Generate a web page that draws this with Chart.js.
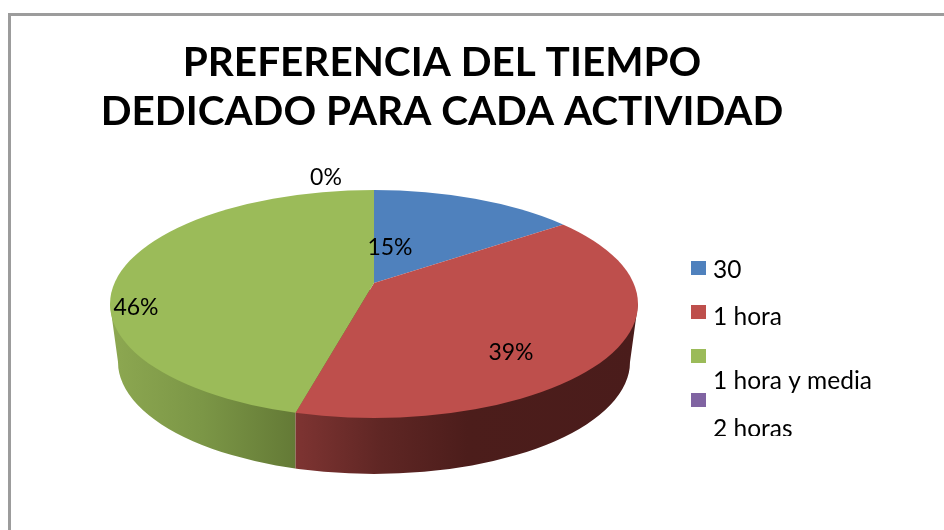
<!DOCTYPE html>
<html lang="es">
<head>
<meta charset="utf-8">
<title>Preferencia del tiempo</title>
<style>html,body{margin:0;padding:0;background:#fff}#w{width:944px;height:530px}</style>
<script src="https://cdn.jsdelivr.net/npm/chart.js@4/dist/chart.umd.min.js"></script>
</head>
<body>
<div id="w"><canvas id="c" width="944" height="530"></canvas></div>
<script>
const titleLines = ['PREFERENCIA DEL TIEMPO', 'DEDICADO PARA CADA ACTIVIDAD'];
const categories = ['30', '1 hora', '1 hora y media', '2 horas'];
const percentValues = [15, 39, 46, 0];
const sliceColors = ['#4F81BD', '#BE4F4C', '#9BBB59', '#8064A2'];

// layout constants, unrelated to the data
const FONT = 'Lato, Carlito, sans-serif';
const top3d = {cx: 374, cy: 304, rx: 264, ry: 114};
const bottom3d = {cx: 374, cy: 362, rx: 256, ry: 112};
const apex = {x: 374, y: 283};
const squash = 0.425;
const percentAnchors = [[390, 248], [511, 353], [136, 308], [326, 178]];
const swatchTops = [261, 305, 349, 393];
const legendBaselines = [278, 325, 389, 437];

function sideGradient(ctx, x0, x1, stops) {
  const g = ctx.createLinearGradient(x0, 0, x1, 0);
  stops.forEach(s => g.addColorStop(s[0], s[1]));
  return g;
}
function splitX(angle) {
  const dx = Math.cos(angle), dy = squash * Math.sin(angle);
  const ox = (apex.x - top3d.cx) / top3d.rx, oy = (apex.y - top3d.cy) / top3d.ry;
  const ux = dx / top3d.rx, uy = dy / top3d.ry;
  const a = ux * ux + uy * uy, b = 2 * (ox * ux + oy * uy), c = ox * ox + oy * oy - 1;
  const t = (-b + Math.sqrt(b * b - 4 * a * c)) / (2 * a);
  return apex.x + t * dx;
}

const pie3d = {
  id: 'pie3d',
  beforeDraw(chart) {
    const ctx = chart.ctx;
    ctx.save();
    ctx.fillStyle = '#fff';
    ctx.fillRect(0, 0, chart.width, chart.height);
    ctx.strokeStyle = '#9c9c9c';
    ctx.lineWidth = 3;
    ctx.strokeRect(9.5, 14.5, 2000, 2000);
    ctx.restore();
  },
  beforeDatasetsDraw(chart) {
    const ctx = chart.ctx;
    const arcs = chart.getDatasetMeta(0).data;
    const split = splitX(arcs[1].endAngle);

    // rim of the disc
    ctx.save();
    ctx.beginPath();
    ctx.ellipse(bottom3d.cx, bottom3d.cy, bottom3d.rx, bottom3d.ry, 0, 0, Math.PI * 2);
    ctx.moveTo(top3d.cx - top3d.rx, top3d.cy);
    ctx.lineTo(top3d.cx + top3d.rx, top3d.cy);
    ctx.lineTo(bottom3d.cx + bottom3d.rx, bottom3d.cy);
    ctx.lineTo(bottom3d.cx - bottom3d.rx, bottom3d.cy);
    ctx.closePath();
    ctx.clip();
    ctx.fillStyle = sideGradient(ctx, 110, split, [[0, '#8DA851'], [0.5, '#7B9646'], [1, '#647A36']]);
    ctx.fillRect(100, 290, split - 100, 200);
    ctx.fillStyle = sideGradient(ctx, split, 640, [[0, '#7E3432'], [0.25, '#5F2624'], [0.5, '#4C1D1B'], [1, '#4A1C1B']]);
    ctx.fillRect(split, 290, 550, 200);
    ctx.restore();

    // top face: library arcs seen through the ellipse
    ctx.save();
    ctx.beginPath();
    ctx.ellipse(top3d.cx, top3d.cy, top3d.rx, top3d.ry, 0, 0, Math.PI * 2);
    ctx.clip();
    arcs.forEach(arc => {
      ctx.save();
      ctx.translate(apex.x, apex.y);
      ctx.scale(1, squash);
      ctx.translate(-arc.x, -arc.y);
      arc.draw(ctx);
      ctx.restore();
    });
    ctx.restore();
    return false;
  },
  afterDraw(chart) {
    const ctx = chart.ctx;
    ctx.save();
    ctx.fillStyle = '#000';
    ctx.font = '23px ' + FONT;
    ctx.textAlign = 'center';
    ctx.textBaseline = 'middle';
    percentValues.forEach((v, i) => {
      ctx.fillText(v + '%', percentAnchors[i][0], percentAnchors[i][1]);
    });
    ctx.font = '24.5px ' + FONT;
    ctx.textAlign = 'left';
    ctx.textBaseline = 'alphabetic';
    ctx.beginPath();
    ctx.rect(680, 250, 230, 186);
    ctx.clip();
    categories.forEach((name, i) => {
      ctx.fillStyle = sliceColors[i];
      ctx.fillRect(691, swatchTops[i], 15, 14);
      ctx.fillStyle = '#000';
      ctx.fillText(name, 713, legendBaselines[i]);
    });
    ctx.restore();
  }
};

new Chart(document.getElementById('c'), {
  type: 'pie',
  data: {
    labels: categories,
    datasets: [{data: percentValues, backgroundColor: sliceColors, borderWidth: 0, radius: 360}]
  },
  options: {
    responsive: false,
    animation: false,
    layout: {padding: {right: 60, top: 38}},
    plugins: {
      legend: {display: false},
      tooltip: {enabled: false},
      title: {
        display: true,
        text: titleLines,
        color: '#000',
        font: {family: FONT, size: 40.5, weight: '700', lineHeight: 1.21},
        padding: 0
      }
    }
  },
  plugins: [pie3d]
});
</script>
</body>
</html>
